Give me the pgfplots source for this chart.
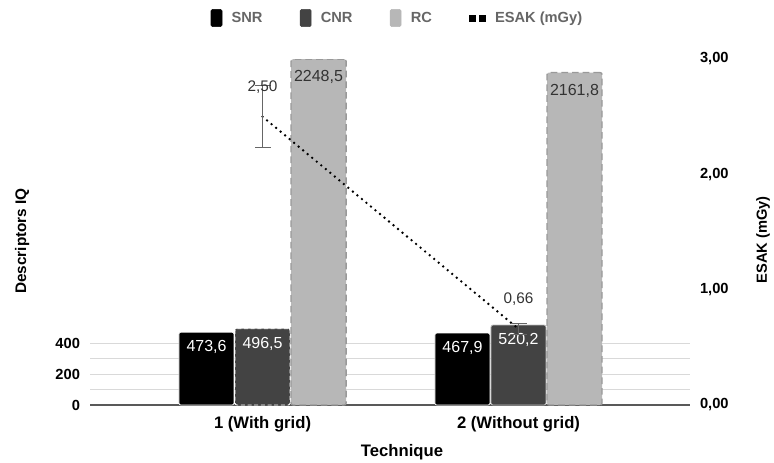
\documentclass[border=0pt]{standalone}
\usepackage{pgfplots}
\pgfplotsset{compat=1.18}
\usepackage{fontspec}
\setmainfont{Liberation Sans}
\definecolor{snr}{HTML}{000000}
\definecolor{cnr}{HTML}{434343}
\definecolor{rc}{HTML}{B7B7B7}
\definecolor{rcedge}{HTML}{999999}
\definecolor{gridc}{HTML}{D9D9D9}
\definecolor{legtxt}{HTML}{666666}
\definecolor{errc}{HTML}{666666}
\definecolor{lbl}{HTML}{333333}

\pgfplotsset{
  common/.style={
    scale only axis, width=450pt, height=259.5pt,
    at={(67.5pt,42.75pt)}, anchor=south west,
    xmin=0.326, xmax=2.67,
    major tick length=0pt, minor tick length=0pt,
    /pgf/number format/assume math mode=true,
    yticklabel style={font=\bfseries\fontsize{11}{13}\selectfont, text=black},
    xticklabel style={font=\bfseries\fontsize{12.5}{14}\selectfont, text=black},
    label style={font=\bfseries\fontsize{11}{13}\selectfont},
  },
  % value labels inside the bars, shifted to the bar's own column
  barlbl/.style 2 args={
    nodes near coords={\pgfmathprintnumber[fixed,fixed zerofill,precision=1,use comma,1000 sep={}]{\pgfplotspointmeta}},
    every node near coord/.style={anchor=center, xshift=#1, yshift=#2, font=\fontsize{12}{14}\selectfont},
  },
}

\begin{document}
\begin{tikzpicture}
\path[use as bounding box] (0,0) rectangle (580.5pt,346.5pt);

% left axis: image quality descriptors
\begin{axis}[
  common,
  ymin=0, ymax=2250,
  axis x line*=bottom, axis y line*=left,
  x axis line style={draw=black!65, line width=0.8pt, -},
  y axis line style={draw=none},
  xtick={1,2}, xticklabels={1 (With grid),2 (Without grid)},
  ytick={0,200,400}, minor ytick={100,300},
  ymajorgrids, yminorgrids,
  major grid style={gridc, line width=0.6pt},
  minor grid style={gridc, line width=0.6pt},
  xticklabel style={yshift=-5pt},
  yticklabel style={xshift=-4pt},
  xlabel={Technique},
  xlabel style={at={(axis description cs:0.52,-0.136)}, anchor=center, font=\bfseries\fontsize{12.5}{14}\selectfont},
  ylabel={Descriptors IQ},
  ylabel style={at={(axis description cs:-0.113,0.474)}, anchor=center, font=\bfseries\fontsize{11.5}{13}\selectfont},
  legend style={at={(axis description cs:0.513,1.1185)}, anchor=center,
    draw=none, fill=none, legend columns=4,
    font=\bfseries\fontsize{11}{13}\selectfont, text=legtxt,
    /tikz/every odd column/.append style={column sep=5pt},
    /tikz/every even column/.append style={column sep=26pt}},
]
\addlegendimage{legend image code/.code={\fill[snr, rounded corners=1pt] (0pt,-6.4pt) rectangle (8.25pt,6.4pt);}}
\addlegendentry{SNR}
\addlegendimage{legend image code/.code={\fill[cnr, rounded corners=1pt] (0pt,-6.4pt) rectangle (8.25pt,6.4pt);}}
\addlegendentry{CNR}
\addlegendimage{legend image code/.code={\fill[rc, rounded corners=1pt] (0pt,-6.4pt) rectangle (8.25pt,6.4pt);}}
\addlegendentry{RC}
\addlegendimage{legend image code/.code={\fill[black] (0pt,-2.2pt) rectangle (4.4pt,2.2pt); \fill[black] (7.5pt,-2.2pt) rectangle (11.9pt,2.2pt);}}
\addlegendentry{ESAK (mGy)}

\addplot[ybar, forget plot, bar width=0.215, bar shift=-0.219,
  fill=snr, draw=white, line width=0.5pt, rounded corners=1.5pt,
  barlbl={-42pt}{-11.25pt}, every node near coord/.append style={text=white}]
  coordinates {(1,473.6) (2,467.9)};
\addplot[ybar, forget plot, bar width=0.215, bar shift=0,
  fill=cnr, draw=white, densely dashed, line width=0.6pt, rounded corners=1.5pt,
  barlbl={0pt}{-11.25pt}, every node near coord/.append style={text=white}]
  coordinates {(1,496.5)};
\addplot[ybar, forget plot, bar width=0.215, bar shift=0,
  fill=cnr, draw=gray!50, line width=0.6pt, rounded corners=1.5pt,
  barlbl={0pt}{-11.25pt}, every node near coord/.append style={text=white}]
  coordinates {(2,520.2)};
\addplot[ybar, forget plot, bar width=0.215, bar shift=0.219,
  fill=rc, draw=rcedge, dash pattern=on 5pt off 3pt, line width=1pt, rounded corners=1.5pt,
  barlbl={42pt}{-13.5pt}, every node near coord/.append style={text=lbl}]
  coordinates {(1,2248.5) (2,2161.8)};
\end{axis}

% right axis: ESAK
\begin{axis}[
  common,
  ymin=0, ymax=3,
  axis x line=none, axis y line*=right,
  y axis line style={draw=none},
  ytick={0,1,2,3},
  yticklabel={\pgfmathprintnumber[fixed,fixed zerofill,precision=2,use comma]{\tick}},
  yticklabel style={xshift=4pt},
  ylabel={ESAK (mGy)},
  ylabel style={at={(axis description cs:1.1217,0.477)}, anchor=center},
]
\addplot[black, line width=2pt, dash pattern=on 0pt off 4.4pt, line cap=round,
  error bars/.cd, y dir=both, y explicit, error mark=-,
  error bar style={errc, line width=0.8pt, solid, line cap=butt},
  error mark options={errc, line width=0.8pt, solid, rotate=90, mark size=6pt}]
  coordinates {(1,2.50) +- (0,0.27) (2,0.66) +- (0,0.05)};
\addplot[draw=none, mark=none,
  nodes near coords={\pgfmathprintnumber[fixed,fixed zerofill,precision=2,use comma]{\pgfplotspointmeta}},
  every node near coord/.style={anchor=center, yshift=22.5pt, text=lbl, font=\fontsize{11.5}{13}\selectfont}]
  coordinates {(1,2.50) (2,0.66)};
\end{axis}
\end{tikzpicture}
\end{document}
